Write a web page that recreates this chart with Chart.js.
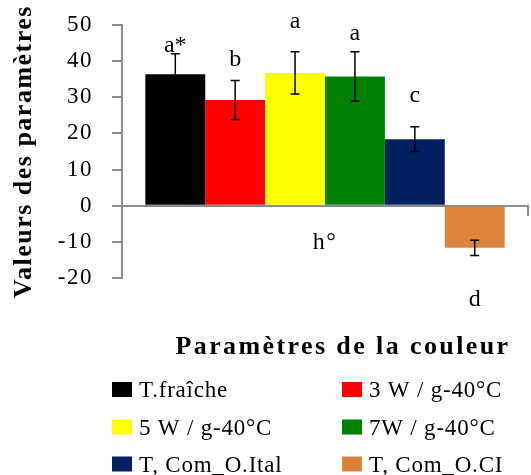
<!DOCTYPE html>
<html>
<head>
<meta charset="utf-8">
<script src="https://cdn.jsdelivr.net/npm/chart.js@4.4.1/dist/chart.umd.min.js"></script>
<style>
  html, body { margin: 0; padding: 0; background: #fff; }
  #wrap { width: 531px; height: 475px; }
</style>
</head>
<body>
<div id="wrap"><canvas id="chart"></canvas></div>
<script>
// data
const categories = ['h°'];
const treatments = ['T.fraîche', '3 W / g-40°C', '5 W / g-40°C', '7W / g-40°C', 'T, Com_O.Ital', 'T, Com_O.CI'];
const means = [36.3, 29.2, 36.7, 35.7, 18.4, -11.6];
const errors = [5.7, 5.4, 5.8, 6.8, 3.4, 2.1];
const letters = ['a*', 'b', 'a', 'a', 'c', 'd'];
const colors = ['#000000', '#ff0000', '#ffff00', '#008000', '#002060', '#dd843c'];
const yMin = -20, yMax = 50, yStep = 10;

const SERIF = '"Liberation Serif", "Times New Roman", serif';
const AXIS_GREY = '#8c8c8c';

// where the letters sit (in y-axis units, at the text baseline)
const letterBase = [42.6, 38.6, 49.2, 45.8, 28.6, -27.7];

const datasets = treatments.map((name, i) => ({
  label: name,
  data: [means[i]],
  backgroundColor: colors[i],
  borderWidth: 0,
  categoryPercentage: 0.885,
  barPercentage: 1.0
}));

const extras = {
  id: 'extras',
  beforeDraw(chart) {
    chart.ctx.letterSpacing = '1.5px';
  },
  afterDatasetsDraw(chart) {
    const ctx = chart.ctx;
    const y = chart.scales.y;
    ctx.save();
    ctx.strokeStyle = '#000';
    ctx.lineWidth = 1.5;
    chart.data.datasets.forEach((ds, i) => {
      const bar = chart.getDatasetMeta(i).data[0];
      const x = bar.x;
      const top = y.getPixelForValue(means[i] + errors[i]);
      const bot = y.getPixelForValue(means[i] - errors[i]);
      ctx.beginPath();
      ctx.moveTo(x, top); ctx.lineTo(x, bot);
      ctx.moveTo(x - 4.5, top); ctx.lineTo(x + 4.5, top);
      ctx.moveTo(x - 4.5, bot); ctx.lineTo(x + 4.5, bot);
      ctx.stroke();
    });
    ctx.fillStyle = '#000';
    ctx.font = '24px ' + SERIF;
    ctx.textAlign = 'center';
    ctx.textBaseline = 'alphabetic';
    ctx.letterSpacing = '0px';
    chart.data.datasets.forEach((ds, i) => {
      const bar = chart.getDatasetMeta(i).data[0];
      ctx.fillText(letters[i], bar.x, y.getPixelForValue(letterBase[i]));
    });
    ctx.restore();
  },
  afterDraw(chart) {
    const ctx = chart.ctx;
    ctx.save();
    ctx.letterSpacing = '2.4px';
    ctx.fillStyle = '#000';
    ctx.font = 'bold 26px ' + SERIF;
    ctx.textAlign = 'center';
    ctx.textBaseline = 'alphabetic';
    ctx.fillText('Paramètres de la couleur', 343, 354);

    // legend, two columns
    ctx.letterSpacing = '0.8px';
    ctx.font = '23px ' + SERIF;
    ctx.textAlign = 'left';
    const colX = [112, 342];
    const rowBase = [397, 434.5, 471.5];
    treatments.forEach((name, i) => {
      const cx = colX[i % 2];
      const by = rowBase[Math.floor(i / 2)];
      ctx.fillStyle = colors[i];
      ctx.fillRect(cx, by - 15, 20, 15);
      ctx.fillStyle = '#000';
      ctx.fillText(name, cx + 27, by);
    });
    ctx.restore();
    ctx.letterSpacing = '0px';
  }
};

new Chart(document.getElementById('chart'), {
  type: 'bar',
  data: { labels: categories, datasets: datasets },
  options: {
    responsive: true,
    maintainAspectRatio: false,
    animation: false,
    layout: { padding: { left: 0, right: 3, top: 24.7, bottom: 196.7 } },
    plugins: {
      legend: { display: false },
      tooltip: { enabled: false }
    },
    scales: {
      x: {
        position: { y: 0 },
        grid: { drawOnChartArea: false, offset: true, tickLength: 9, color: AXIS_GREY, lineWidth: 2 },
        border: { color: AXIS_GREY, width: 2 },
        ticks: { color: '#000', font: { family: SERIF, size: 24 }, padding: 13 }
      },
      y: {
        min: yMin,
        max: yMax,
        ticks: { stepSize: yStep, color: '#000', font: { family: SERIF, size: 23 }, padding: 19 },
        grid: { drawOnChartArea: false, tickLength: 10, color: AXIS_GREY, lineWidth: 2 },
        border: { color: AXIS_GREY, width: 2 },
        title: {
          display: true,
          text: 'Valeurs des paramètres',
          color: '#000',
          font: { family: SERIF, size: 26, weight: 'bold' },
          padding: { top: 9, bottom: 0 }
        },
        afterFit(scale) {
          scale.width = 122;
          scale.paddingTop = 12;
          scale.paddingBottom = 12;
        }
      }
    }
  },
  plugins: [extras]
});
</script>
</body>
</html>
